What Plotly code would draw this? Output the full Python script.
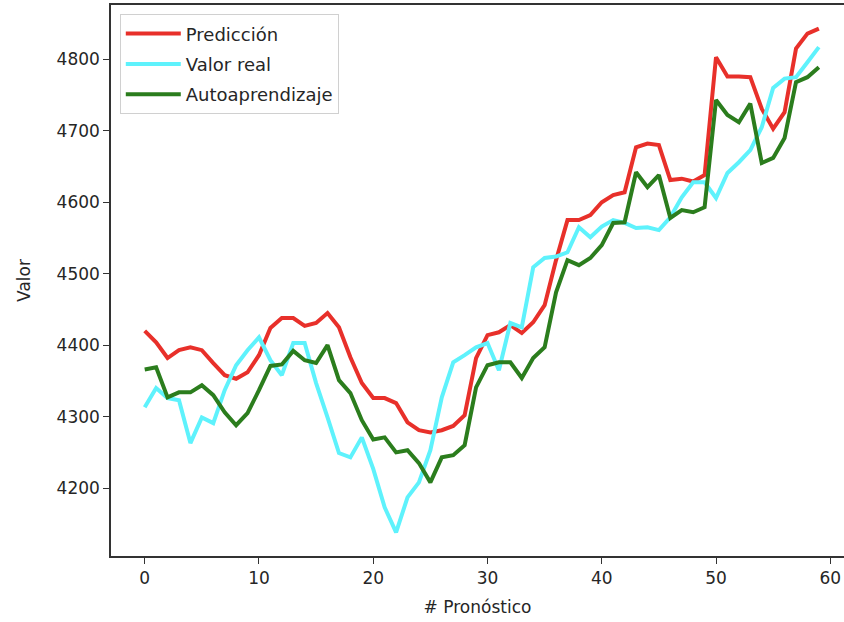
import plotly.graph_objects as go

x_vals = list(range(60))

prediccion = [4420, 4404, 4382, 4393, 4397, 4393, 4375, 4358, 4353, 4362,
              4386, 4424, 4438, 4438, 4427, 4431, 4445, 4425, 4383, 4347,
              4326, 4326, 4319, 4292, 4281, 4278, 4281, 4287, 4302, 4382,
              4414, 4418, 4428, 4417, 4432, 4456, 4519, 4575, 4575, 4582,
              4600, 4610, 4614, 4677, 4682, 4680, 4631, 4633, 4629, 4638,
              4803, 4776, 4776, 4775, 4731, 4703, 4726, 4815, 4836, 4843]

valor_real = [4313, 4340, 4326, 4323, 4263, 4299, 4291, 4337, 4372, 4393,
              4411, 4379, 4358, 4403, 4403, 4347, 4299, 4249, 4243, 4271,
              4227, 4173, 4138, 4187, 4208, 4253, 4327, 4376, 4386, 4397,
              4403, 4365, 4431, 4425, 4509, 4522, 4524, 4530, 4565, 4551,
              4566, 4575, 4571, 4564, 4565, 4561, 4579, 4607, 4628, 4628,
              4606, 4641, 4656, 4673, 4705, 4760, 4773, 4775, 4796, 4817]

autoaprendizaje = [4366, 4369, 4327, 4334, 4334, 4344, 4330, 4306, 4288, 4305,
                   4337, 4371, 4373, 4392, 4379, 4375, 4400, 4351, 4333, 4295,
                   4268, 4271, 4250, 4253, 4235, 4208, 4243, 4246, 4260, 4341,
                   4372, 4376, 4376, 4354, 4382, 4397, 4474, 4519, 4512, 4522,
                   4540, 4571, 4572, 4642, 4621, 4638, 4578, 4589, 4586, 4593,
                   4743, 4722, 4712, 4738, 4655, 4662, 4690, 4768, 4775, 4789]

x_ticks = [0, 10, 20, 30, 40, 50, 60]
y_ticks = [4200, 4300, 4400, 4500, 4600, 4700, 4800]

font_family = "DejaVu Sans"
font_color = "#262626"

fig = go.Figure()
fig.add_trace(go.Scatter(x=x_vals, y=prediccion, mode="lines", name="Predicción",
                         legendgroup="a", line=dict(color="#e8302a", width=4)))
fig.add_trace(go.Scatter(x=x_vals, y=valor_real, mode="lines", name="Valor real",
                         legendgroup="b", line=dict(color="#5ef2fc", width=4)))
fig.add_trace(go.Scatter(x=x_vals, y=autoaprendizaje, mode="lines", name="Autoaprendizaje",
                         legendgroup="c", line=dict(color="#2b7d1d", width=4)))

fig.update_layout(
    width=844, height=622,
    margin=dict(l=111, r=0, t=5, b=66),
    paper_bgcolor="white", plot_bgcolor="white",
    font=dict(family=font_family, size=17, color=font_color),
    showlegend=True,
    legend=dict(x=0.012, y=0.983, xanchor="left", yanchor="top",
                bgcolor="rgba(255,255,255,0.9)", bordercolor="#d0d0d0", borderwidth=1,
                font=dict(family=font_family, size=18, color=font_color),
                tracegroupgap=4, itemwidth=55,
                entrywidth=238, entrywidthmode="pixels"),
)
fig.update_xaxes(
    range=[-2.95, 61.2], tickmode="array", tickvals=x_ticks,
    ticks="outside", ticklen=6, tickwidth=1.3, tickcolor="#333",
    showline=True, linecolor="#333", linewidth=1.5, mirror=True,
    showgrid=False, zeroline=False,
    title=dict(text="# Pronóstico", standoff=14, font=dict(size=17)),
    tickfont=dict(size=17),
)
fig.update_yaxes(
    range=[4105, 4876], tickmode="array", tickvals=y_ticks,
    ticks="outside", ticklen=6, tickwidth=1.3, tickcolor="#333",
    showline=True, linecolor="#333", linewidth=1.5, mirror=False,
    showgrid=False, zeroline=False,
    title=dict(text="Valor", standoff=22, font=dict(size=17)),
    tickfont=dict(size=17),
)

fig.write_html("out.html")
